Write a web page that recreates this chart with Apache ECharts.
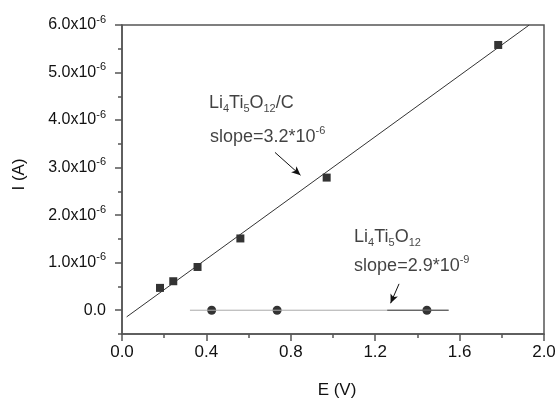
<!DOCTYPE html>
<html>
<head>
<meta charset="utf-8">
<script src="https://cdn.jsdelivr.net/npm/echarts@6/dist/echarts.min.js"></script>
<style>
  html, body { margin: 0; padding: 0; background: #fff; }
  #chart { width: 558px; height: 399px; }
</style>
</head>
<body>
<div id="chart"></div>
<script>
// Li4Ti5O12/C points (E in V, I in units of 10^-6 A)
const voltageLTOC = [0.18, 0.243, 0.358, 0.561, 0.970, 1.783];
const currentLTOC = [0.47, 0.61, 0.91, 1.51, 2.79, 5.58];
// Li4Ti5O12 points
const voltageLTO = [0.425, 0.735, 1.445];
const currentLTO = [0, 0, 0];
// fitted lines (end points)
const fitLTOC = [[0.022, -0.14], [1.93, 6.0]];
const fitLTO = [[0.322, 0], [1.548, 0]];
const fitLTOdark = [[1.257, 0], [1.548, 0]];
// arrows
const arrowLTOC = [[0.725, 3.32], [0.846, 2.84]];
const arrowLTO = [[1.313, 0.555], [1.273, 0.147]];
// tick labels
const yTickValues = [0, 1, 2, 3, 4, 5, 6];
const yMinorValues = [-0.5, 0.5, 1.5, 2.5, 3.5, 4.5, 5.5];
const yTickLabels = ['0.0', '1.0x10', '2.0x10', '3.0x10', '4.0x10', '5.0x10', '6.0x10'];
// annotations: [E, I, text]
const notes = [
  [0.412, 4.36, 'Li{sub|4}Ti{sub|5}O{sub|12}/C'],
  [0.417, 3.64, 'slope=3.2*10{sup|-6}'],
  [1.10, 1.55, 'Li{sub|4}Ti{sub|5}O{sub|12}'],
  [1.10, 0.93, 'slope=2.9*10{sup|-9}']
];

const chart = echarts.init(document.getElementById('chart'));

const axisColor = '#555';
const textColor = '#111';

const option = {
  animation: false,
  backgroundColor: '#fff',
  textStyle: { fontFamily: 'Liberation Sans, Arial, sans-serif' },
  grid: {
    left: 122, right: 14, top: 25, bottom: 65,
    outerBoundsMode: 'none',
    containLabel: false,
    show: true, borderColor: axisColor, borderWidth: 1.5, backgroundColor: 'transparent'
  },
  xAxis: {
    type: 'value',
    min: 0, max: 2.0, interval: 0.4,
    name: 'E (V)', nameLocation: 'middle', nameGap: 48,
    nameTextStyle: { fontSize: 17, color: textColor, padding: [0, 0, 0, 8] },
    axisLine: { onZero: false, lineStyle: { color: axisColor, width: 1.5 } },
    axisTick: { inside: false, length: 7, lineStyle: { color: axisColor, width: 1.5 } },
    minorTick: { show: true, splitNumber: 2, length: 4, lineStyle: { color: axisColor, width: 1.5 } },
    splitLine: { show: false },
    axisLabel: { fontSize: 17, color: textColor, margin: 10, formatter: v => v.toFixed(1) }
  },
  yAxis: [
    {
      type: 'value',
      min: -0.5, max: 6,
      name: 'I (A)', nameLocation: 'middle', nameGap: 94,
      nameTextStyle: { fontSize: 17, color: textColor, padding: [0, 0, 0, 10] },
      axisLine: { onZero: false, lineStyle: { color: axisColor, width: 1.5 } },
      axisTick: { length: 7, customValues: yTickValues, lineStyle: { color: axisColor, width: 1.5 } },
      splitLine: { show: false },
      axisLabel: {
        customValues: yTickValues,
        margin: 16,
        formatter: v => {
          const i = yTickValues.indexOf(Math.round(v));
          const s = yTickLabels[i];
          return i === 0 ? '{n|' + s + '}' : '{n|' + s + '}{sup|-6}';
        },
        rich: {
          n: { fontSize: 16, color: textColor },
          sup: { fontSize: 11, color: textColor, padding: [0, 0, 11, 0] }
        }
      }
    },
    {
      type: 'value',
      min: -0.5, max: 6,
      position: 'left',
      axisLine: { show: false },
      axisTick: { length: 4, customValues: yMinorValues, lineStyle: { color: axisColor, width: 1.5 } },
      axisLabel: { show: false },
      splitLine: { show: false }
    }
  ],
  series: [
    {
      type: 'line',
      data: fitLTOC,
      symbol: 'none',
      lineStyle: { color: '#333', width: 1 },
      silent: true,
      markLine: {
        silent: true,
        symbol: ['none', 'arrow'],
        symbolSize: [6, 9],
        label: { show: false },
        lineStyle: { color: '#111', width: 1, type: 'solid' },
        data: [
          [{ coord: arrowLTOC[0] }, { coord: arrowLTOC[1] }],
          [{ coord: arrowLTO[0] }, { coord: arrowLTO[1] }]
        ]
      }
    },
    {
      type: 'line',
      data: fitLTO,
      symbol: 'none',
      lineStyle: { color: '#aaa', width: 1 },
      silent: true
    },
    {
      type: 'line',
      data: fitLTOdark,
      symbol: 'none',
      lineStyle: { color: '#444', width: 1 },
      silent: true
    },
    {
      type: 'scatter',
      symbol: 'rect',
      symbolSize: 8,
      itemStyle: { color: '#000' },
      data: voltageLTOC.map((e, i) => [e, currentLTOC[i]])
    },
    {
      type: 'scatter',
      symbol: 'circle',
      symbolSize: 9,
      itemStyle: { color: '#000' },
      data: voltageLTO.map((e, i) => [e, currentLTO[i]])
    },
    {
      type: 'scatter',
      symbolSize: 0,
      silent: true,
      data: notes.map(n => ({ value: [n[0], n[1]], text: n[2] })),
      label: {
        show: true,
        position: 'inside',
        align: 'left',
        verticalAlign: 'middle',
        formatter: p => p.data.text,
        fontSize: 18,
        color: textColor,
        rich: {
          sub: { fontSize: 11, color: textColor, padding: [13, 0, 0, 0] },
          sup: { fontSize: 11, color: textColor, padding: [0, 0, 13, 0] }
        }
      }
    }
  ]
};

chart.setOption(option);
</script>
</body>
</html>
